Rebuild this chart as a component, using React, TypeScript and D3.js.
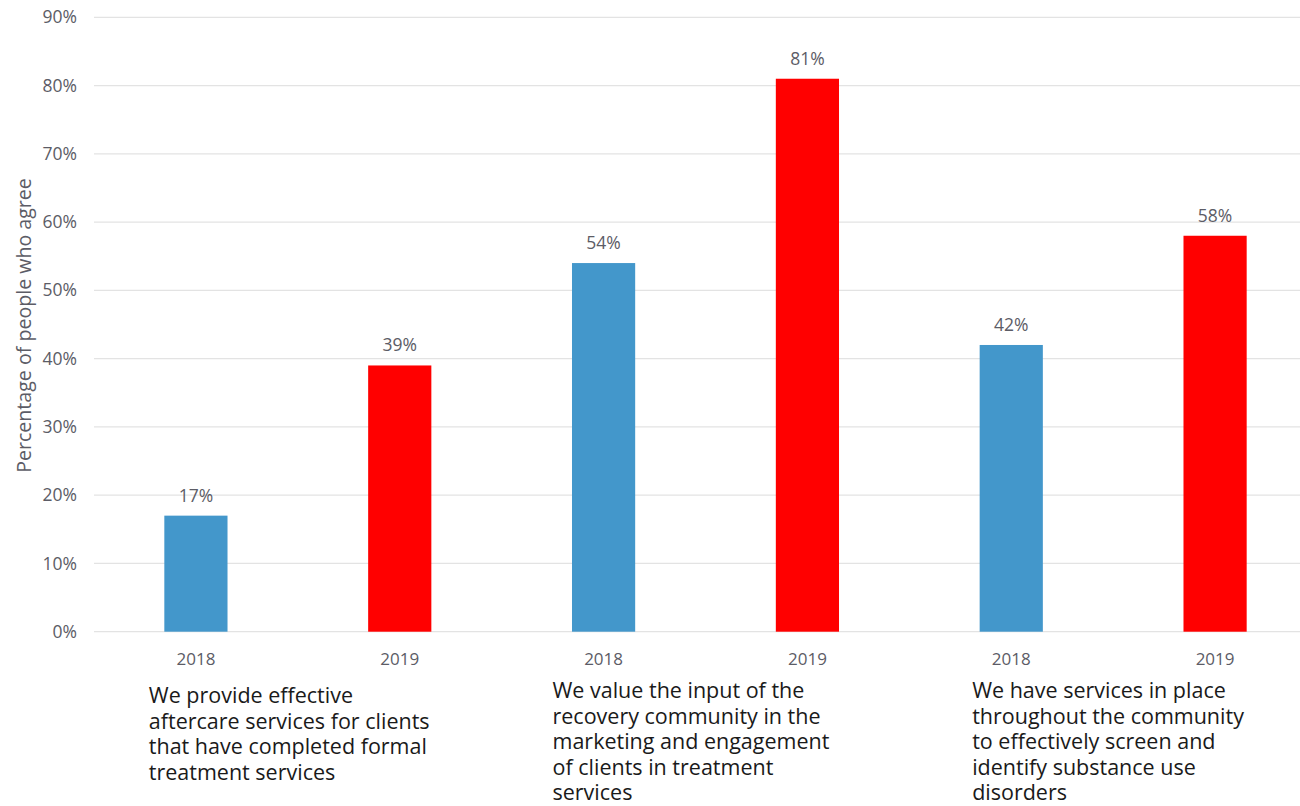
import React from "react";
import * as d3 from "d3";

const years = ["2018", "2019", "2018", "2019", "2018", "2019"];
const values = [17, 39, 54, 81, 42, 58];
const seriesColors = ["#4397CB", "#FF0000", "#4397CB", "#FF0000", "#4397CB", "#FF0000"];
const yTicks = [0, 10, 20, 30, 40, 50, 60, 70, 80, 90];
const groupLabels = [
  ["We provide effective", "aftercare services for clients", "that have completed formal", "treatment services"],
  ["We value the input of the", "recovery community in the", "marketing and engagement", "of clients in treatment", "services"],
  ["We have services in place", "throughout the community", "to effectively screen and", "identify substance use", "disorders"],
];
const yTitle = "Percentage of people who agree";

const W = 1300;
const H = 806;
const FONT = "'Open Sans', 'Noto Sans', sans-serif";

export default function App() {
  const left = 94;
  const right = 1317;
  const top = 17.3;
  const bottom = 631.7;

  const x = d3
    .scaleBand<number>()
    .domain(d3.range(values.length))
    .range([left, right])
    .paddingInner(0.69)
    .paddingOuter(0.345);
  const y = d3.scaleLinear().domain([0, 90]).range([bottom, top]);

  const groupOffsets = [-149, -153, -141];

  return (
    <svg width={W} height={H} style={{ position: "absolute", left: 0, top: 0, background: "#fff" }} fontFamily={FONT}>
      {yTicks.map((t) => (
        <g key={t}>
          <line x1={left} x2={W} y1={y(t)} y2={y(t)} stroke="#E3E3E3" strokeWidth={1.3} />
          <text x={77} y={y(t)} dy="0.35em" textAnchor="end" fontSize={17.5} fill="#5c5c66">
            {t}%
          </text>
        </g>
      ))}
      <text
        transform={`translate(31, ${(top + bottom) / 2 + 1}) rotate(-90)`}
        textAnchor="middle"
        fontSize={19.6}
        fill="#5c5c66"
      >
        {yTitle}
      </text>
      {values.map((v, i) => (
        <g key={i}>
          <rect x={x(i)} y={y(v)} width={x.bandwidth()} height={y(0) - y(v)} fill={seriesColors[i]} />
          <text x={x(i)! + x.bandwidth() / 2} y={y(v) - 14} textAnchor="middle" fontSize={17.5} fill="#5c5c66">
            {v}%
          </text>
          <text x={x(i)! + x.bandwidth() / 2} y={665} textAnchor="middle" fontSize={17} fill="#5c5c66">
            {years[i]}
          </text>
        </g>
      ))}
      {groupLabels.map((lines, g) => {
        const cx = (x(g * 2)! + x(g * 2 + 1)! + x.bandwidth()) / 2;
        const y0 = lines.length > 4 ? 698 : 703;
        return (
          <g key={g}>
            {lines.map((l, k) => (
              <text key={k} x={cx + groupOffsets[g]} y={y0 + k * 25.5} fontSize={21.5} fill="#1a1a1a">
                {l}
              </text>
            ))}
          </g>
        );
      })}
    </svg>
  );
}
